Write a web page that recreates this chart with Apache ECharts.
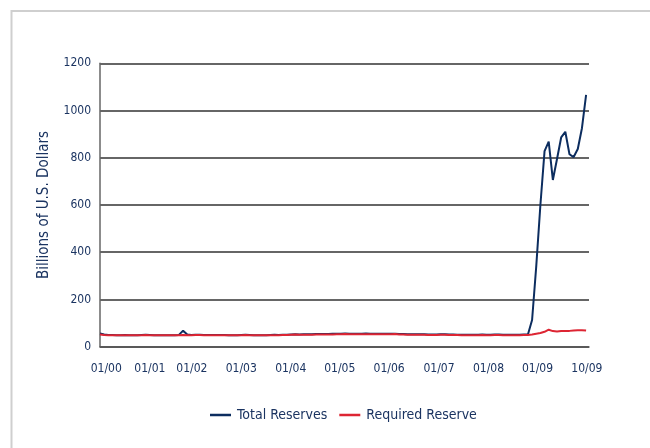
<!DOCTYPE html>
<html>
<head>
<meta charset="utf-8">
<script src="https://cdn.jsdelivr.net/npm/echarts@6/dist/echarts.min.js"></script>
<style>
html,body{margin:0;padding:0;background:#fff;}
#c{width:650px;height:448px;}
</style>
</head>
<body>
<div id="c"></div>
<script>
// Monthly values, Jan 2000 .. Oct 2009 (billions of U.S. dollars)
var totalReserves = [
  56, 52, 50, 50, 49, 49, 50, 49, 49, 49, 50, 51,
  50, 49, 49, 49, 49, 49, 49, 50, 68, 52, 50, 51,
  51, 50, 50, 50, 50, 50, 50, 49, 49, 49, 50, 51,
  50, 49, 49, 49, 49, 50, 51, 50, 51, 51, 52, 53,
  52, 53, 53, 53, 54, 54, 54, 54, 55, 55, 55, 56,
  55, 55, 55, 55, 56, 55, 55, 55, 55, 55, 55, 55,
  54, 54, 53, 53, 53, 53, 53, 52, 52, 52, 53, 53,
  52, 52, 51, 51, 51, 51, 51, 51, 52, 51, 51, 52,
  52, 51, 51, 51, 51, 51, 52, 52, 113, 340, 600, 828,
  868, 706, 795, 886, 910, 815, 803, 837, 925, 1066
];
var requiredReserve = [
  52, 50, 49, 49, 48, 48, 48, 48, 48, 48, 49, 50,
  49, 48, 48, 48, 48, 48, 48, 48, 50, 49, 49, 50,
  50, 49, 49, 48, 48, 48, 48, 48, 48, 48, 49, 50,
  49, 48, 48, 48, 48, 48, 49, 49, 50, 50, 51, 52,
  51, 51, 51, 51, 52, 52, 52, 52, 52, 53, 53, 54,
  53, 53, 53, 53, 53, 53, 53, 53, 53, 53, 53, 54,
  52, 52, 51, 51, 51, 51, 51, 50, 50, 50, 51, 51,
  50, 50, 50, 49, 49, 49, 49, 49, 50, 49, 49, 50,
  50, 49, 49, 49, 49, 49, 50, 50, 52, 55, 58, 63,
  72, 66, 64, 66, 67, 67, 69, 70, 70, 69
];
// x tick labels and where they sit (in months since Jan 2000) as drawn in the source
var tickLabels = ['01/00','01/01','01/02','01/03','01/04','01/05','01/06','01/07','01/08','01/09','10/09'];
var tickMonths = [1.5, 12.0, 22.1, 34.0, 45.9, 57.7, 69.6, 81.6, 93.5, 105.3, 117.2];
var yTicks = [0, 200, 400, 600, 800, 1000, 1200];

var FONT = '"Liberation Sans Narrow", "DejaVu Sans Condensed", "Roboto", sans-serif';
var NAVY = '#1b3461';
var BLUE = '#0c2d5f';
var RED = '#dd2533';

function pairs(arr){ return arr.map(function(v,i){ return [i, v]; }); }

var chart = echarts.init(document.getElementById('c'), null, {renderer:'canvas'});
chart.setOption({
  animation: false,
  backgroundColor: '#fff',
  graphic: [{
    type: 'rect', silent: true, z: -1,
    shape: {x: 11.5, y: 11, width: 700, height: 500},
    style: {fill: 'none', stroke: '#cfcfcf', lineWidth: 2}
  }],
  grid: {left: 100, right: 61, top: 63.3, bottom: 101.3},
  legend: {
    left: 205, top: 403,
    icon: 'rect', itemWidth: 21, itemHeight: 2.5, itemGap: 12,
    textStyle: {fontFamily: FONT, fontSize: 14, color: NAVY, padding: [0,0,0,1]},
    data: ['Total Reserves', 'Required Reserve']
  },
  xAxis: {
    type: 'value', min: 0, max: 117.7,
    axisLine: {show: true, lineStyle: {color: '#555', width: 1.5}},
    axisTick: {show: false},
    splitLine: {show: false},
    axisLabel: {
      customValues: tickMonths,
      margin: 16,
      fontFamily: FONT, fontSize: 12, color: NAVY,
      formatter: function(v){
        var best = 0, d = 1e9;
        for (var i = 0; i < tickMonths.length; i++) {
          var dd = Math.abs(tickMonths[i] - v);
          if (dd < d) { d = dd; best = i; }
        }
        return tickLabels[best];
      }
    }
  },
  yAxis: {
    type: 'value', min: yTicks[0], max: yTicks[yTicks.length-1], interval: 200,
    name: 'Billions of U.S. Dollars',
    nameLocation: 'middle', nameGap: 48, nameRotate: 90,
    nameTextStyle: {fontFamily: FONT, fontSize: 15, color: NAVY},
    axisLine: {show: true, lineStyle: {color: '#666', width: 1.5}},
    axisTick: {show: false},
    splitLine: {show: true, lineStyle: {color: '#333', width: 1.5}},
    axisLabel: {
      margin: 9, fontFamily: FONT, fontSize: 12, color: NAVY,
      formatter: function(v){ return String(v); }
    }
  },
  series: [
    {
      name: 'Total Reserves', type: 'line', data: pairs(totalReserves),
      showSymbol: false, symbol: 'none',
      lineStyle: {color: BLUE, width: 2}, itemStyle: {color: BLUE}
    },
    {
      name: 'Required Reserve', type: 'line', data: pairs(requiredReserve),
      showSymbol: false, symbol: 'none',
      lineStyle: {color: RED, width: 2}, itemStyle: {color: RED}
    }
  ]
});
</script>
</body>
</html>
